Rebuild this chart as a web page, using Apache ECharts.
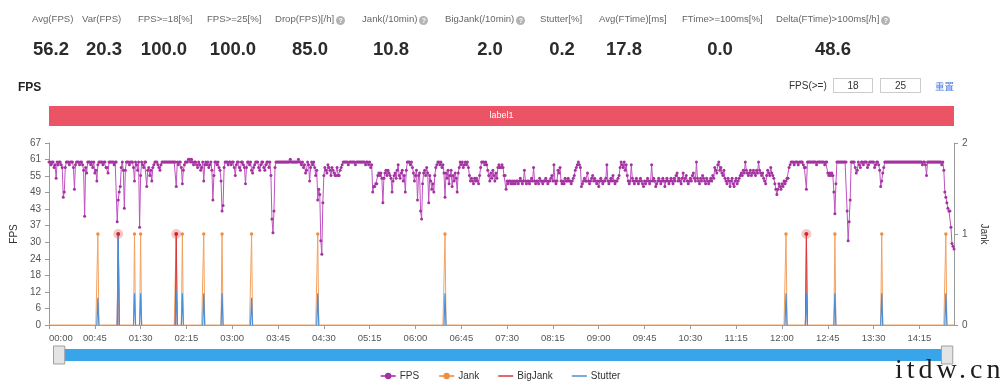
<!DOCTYPE html>
<html>
<head>
<meta charset="utf-8">
<script src="https://cdn.jsdelivr.net/npm/echarts@6/dist/echarts.min.js"></script>
<style>
html,body{margin:0;padding:0;width:1000px;height:381px;overflow:hidden;background:#fff;font-family:'Liberation Sans',Arial,sans-serif;}
#chart{position:absolute;left:0;top:0;width:1000px;height:381px;}
.ui{position:absolute;white-space:nowrap;pointer-events:none;}
.slabel{font-size:9.6px;color:#666;line-height:12px;top:13px;}
.sval{font-size:18.5px;font-weight:bold;color:#2b2b2b;line-height:20px;top:39px;transform:translateX(-50%);}
.help{display:inline-block;width:9px;height:9px;border-radius:50%;background:#b3b3b3;color:#fff;font-size:7px;font-weight:bold;line-height:9px;text-align:center;vertical-align:-1px;margin-left:2px;}
.box{box-sizing:border-box;height:15px;border:1px solid #ccc;font-size:10px;color:#333;line-height:13px;text-align:center;top:78px;}
</style>
</head>
<body>
<div id="chart"></div>
<div id="ui"></div>
<script>
// ---------- data ----------
const statLabels = ['Avg(FPS)','Var(FPS)','FPS>=18[%]','FPS>=25[%]','Drop(FPS)[/h]','Jank(/10min)','BigJank(/10min)','Stutter[%]','Avg(FTime)[ms]','FTime>=100ms[%]','Delta(FTime)>100ms[/h]'];
const statValues = ['56.2','20.3','100.0','100.0','85.0','10.8','2.0','0.2','17.8','0.0','48.6'];
const statHelp = [false,false,false,false,true,true,true,false,false,false,true];

const fps = [
60,60,59,60,60,58,59,54,60,59,
60,60,59,58,47,49,58,60,60,60,
59,60,60,60,58,50,59,60,60,60,
59,60,60,59,57,40,58,56,60,60,
60,59,60,58,60,56,57,53,59,60,
60,60,60,59,60,60,58,58,56,60,
60,60,60,60,59,60,60,38,46,49,
51,58,60,57,43,57,60,60,60,59,
60,60,60,58,53,60,59,57,60,36,
55,60,59,58,60,60,51,57,58,55,
57,53,58,59,60,60,60,59,58,57,
59,60,60,60,60,60,60,60,60,60,
60,60,60,60,60,51,60,59,60,60,
58,52,57,59,60,60,60,61,61,60,
61,60,59,60,60,59,58,60,59,57,
58,60,53,59,60,59,60,58,59,60,
57,46,55,60,60,59,60,58,57,53,
42,44,58,60,60,60,59,60,60,59,
60,60,58,55,59,60,60,58,57,60,
60,59,58,52,58,60,60,59,60,57,
56,58,59,60,60,60,58,57,59,60,
60,58,57,59,60,60,58,60,55,39,
34,42,58,60,60,60,60,60,60,60,
60,60,60,60,60,60,60,61,60,60,
60,60,60,60,60,61,60,60,59,60,
58,59,56,57,60,59,53,58,60,59,
60,58,55,57,46,50,48,31,26,45,
55,58,57,56,59,58,57,55,58,57,
56,55,55,58,55,55,57,58,59,60,
60,60,60,60,59,60,60,60,60,60,
60,59,60,60,60,60,60,60,60,60,
60,59,60,60,59,60,58,59,49,51,
51,52,52,55,56,55,56,54,45,54,
56,57,55,57,56,55,54,49,53,55,
56,54,57,59,55,54,56,57,53,55,
49,57,60,60,60,59,60,58,56,53,
55,57,46,55,56,42,39,52,56,57,
55,58,56,45,55,53,50,52,49,55,
58,59,60,60,59,60,58,59,56,47,
56,54,57,52,55,57,51,55,53,56,
54,49,56,58,60,59,60,58,59,60,
59,60,58,55,53,54,53,52,54,53,
54,53,52,55,58,60,60,60,59,60,
59,57,55,53,56,54,57,55,53,56,
54,58,59,58,58,59,58,55,55,50,
53,52,53,53,52,53,52,53,52,53,
53,52,53,54,53,52,53,57,53,52,
53,53,52,53,54,53,58,53,52,53,
53,52,54,53,53,52,53,53,54,53,
52,53,53,54,55,53,59,53,52,53,
57,56,58,53,52,53,52,54,53,53,
54,53,53,52,53,54,55,57,58,59,
60,59,58,51,52,53,54,53,53,56,
53,52,53,54,55,53,54,53,52,53,
51,53,54,53,52,53,53,54,59,53,
52,53,54,53,55,53,52,53,53,54,
55,58,60,59,58,60,57,59,55,53,
52,53,59,54,53,52,53,54,53,52,
53,54,53,52,51,53,52,53,54,53,
52,53,59,53,54,53,51,52,53,54,
53,52,53,54,53,51,53,54,53,52,
53,54,53,52,54,53,55,56,53,54,
53,52,54,56,53,54,55,53,52,53,
54,53,55,56,54,53,60,54,53,52,
54,53,55,54,53,52,54,53,52,53,
54,53,55,54,58,57,56,59,60,57,
58,56,55,57,54,53,52,54,53,51,
53,54,52,51,53,54,52,53,54,55,
56,55,57,56,60,57,56,55,56,57,
55,56,57,56,55,57,56,60,57,56,
55,56,54,53,52,55,57,56,55,58,
56,55,54,52,50,48,50,52,51,50,
52,51,53,52,53,54,54,58,59,60,
60,60,59,60,60,60,59,60,60,60,
60,59,58,58,50,60,60,60,60,60,
60,60,60,60,59,60,60,60,60,60,
60,60,59,60,60,56,55,56,55,56,
55,49,41,52,60,60,60,60,60,60,
60,60,60,60,42,31,38,46,60,60,
60,60,58,56,57,60,59,58,60,60,
59,60,60,60,58,59,60,60,60,60,
60,58,59,60,60,59,57,51,53,56,
58,60,60,60,60,60,60,60,60,60,
60,60,60,60,60,60,60,60,60,60,
60,60,60,60,60,60,60,60,60,60,
60,60,60,60,60,60,60,60,59,60,
60,59,55,60,60,60,60,60,60,60,
60,60,60,60,60,60,60,59,60,57,
49,47,45,43,42,42,36,30,29,28
];
// jank events (sample index = second), stutter peak per event, big-jank events
const jankIdx = [48,68,84,90,125,131,152,170,199,264,389,724,744,772,818,881];
const stutterPeak = [0.3,1,0.35,0.35,0.38,0.35,0.35,0.35,0.3,0.35,0.35,0.35,0.35,0.35,0.35,0.35];
const bigJankIdx = [68,125,744];
// label segments
const segNames = ['label1'];
const segStart = [0];
const segEnd = [889];
// FPS axis: 0..67 split in 11
const fpsMax = 67, fpsSplits = 11;

// ---------- layout (not data) ----------
const statLabelLeft = [32,82,138,207,275,362,445,540,599,682,776];
const statValueCenter = [51,104,164,233,310,391,490,562,624,720,833];

// ---------- header HTML ----------
const ui = document.getElementById('ui');
function add(html, cls, style){ const d=document.createElement('div'); d.className='ui '+(cls||''); d.innerHTML=html; Object.assign(d.style, style||{}); ui.appendChild(d); return d; }
statLabels.forEach((t,k)=>{
  add(t.replace(/</g,'&lt;').replace(/>/g,'&gt;') + (statHelp[k]?'<span class="help">?</span>':''), 'slabel', {left:statLabelLeft[k]+'px'});
  add(statValues[k], 'sval', {left:statValueCenter[k]+'px'});
});
add('FPS','',{left:'18px',top:'80px',fontSize:'12px',fontWeight:'bold',color:'#222',lineHeight:'14px'});
add('FPS(&gt;=)','',{left:'789px',top:'80px',fontSize:'10px',color:'#333',lineHeight:'12px'});
add('18','box',{left:'833px',width:'40px'});
add('25','box',{left:'880px',width:'41px'});
add('重置','',{left:'935px',top:'80px',fontSize:'9.5px',color:'#4a7ddc',lineHeight:'12px',fontFamily:"'Noto Sans CJK SC',sans-serif"});
add('itdw.cn','',{left:'895px',top:'355px',fontSize:'28px',letterSpacing:'4px',color:'#1c1c1c',lineHeight:'28px',fontFamily:"'Liberation Serif',serif"});

// ---------- series construction ----------
const times = fps.map((_,i)=>String(Math.floor(i/60)).padStart(2,'0')+':'+String(i%60).padStart(2,'0'));
const jank = fps.map(()=>0);
jankIdx.forEach(i=>{ jank[i]=1; });
const stutter = fps.map(()=>null);
jankIdx.forEach((i,k)=>{ stutter[i-1]=0; stutter[i]=stutterPeak[k]; stutter[i+1]=0; });
const bigJank = fps.map(()=>null);
bigJankIdx.forEach(i=>{
  bigJank[i-1]=0; bigJank[i+1]=0;
  bigJank[i]={value:1,symbol:'circle',symbolSize:4,itemStyle:{color:'#c42129',borderColor:'rgba(235,85,85,0.33)',borderWidth:6}};
});

const chart = echarts.init(document.getElementById('chart'), null, {renderer:'canvas'});
const axisGray = '#9a9a9a';
const lineIcon = 'path://M0,0 H16 V1.6 H0 Z';
chart.setOption({
  animation:false,
  textStyle:{fontFamily:"'Liberation Sans',Arial,sans-serif"},
  legend:{
    top:366, left:'center', itemWidth:15, itemHeight:8, itemGap:19,
    textStyle:{fontSize:10,color:'#333',padding:[0,0,0,-1]},
    data:['FPS','Jank',{name:'BigJank',icon:lineIcon},{name:'Stutter',icon:lineIcon}]
  },
  grid:[
    {left:49,right:46,top:143,bottom:56,outerBoundsMode:'none'},
    {left:49,right:46,top:106,height:20,outerBoundsMode:'none'}
  ],
  xAxis:[
    {type:'category',data:times,boundaryGap:false,
     axisLine:{lineStyle:{color:axisGray}},
     axisTick:{show:true,interval:44,length:4,lineStyle:{color:axisGray}},
     axisLabel:{interval:44,color:'#555',fontSize:9.5,margin:8,alignMinLabel:'left',hideOverlap:false},
     splitLine:{show:false}},
    {type:'value',gridIndex:1,min:0,max:segEnd[segEnd.length-1],show:false}
  ],
  yAxis:[
    {type:'value',min:0,max:fpsMax,interval:fpsMax/fpsSplits,
     name:'FPS',nameLocation:'middle',nameGap:26,nameRotate:90,nameTextStyle:{color:'#333',fontSize:10},
     axisLine:{show:true,lineStyle:{color:axisGray}},
     axisTick:{show:true,length:4,lineStyle:{color:axisGray}},
     axisLabel:{color:'#555',fontSize:10,margin:8,formatter:v=>String(Math.round(v))},
     splitLine:{show:false}},
    {type:'value',min:0,max:2,interval:1,position:'right',
     name:'Jank',nameLocation:'middle',nameGap:17,nameRotate:-90,nameTextStyle:{color:'#333',fontSize:10},
     axisLine:{show:true,lineStyle:{color:axisGray}},
     axisTick:{show:true,length:4,lineStyle:{color:axisGray}},
     axisLabel:{color:'#555',fontSize:10,margin:8},
     splitLine:{show:false}},
    {type:'category',gridIndex:1,data:segNames,show:false}
  ],
  dataZoom:[{
    type:'slider',xAxisIndex:0,left:57,right:53,top:349,height:12,
    showDetail:false,showDataShadow:false,brushSelect:false,moveHandleSize:0,
    backgroundColor:'#eee',fillerColor:'#38a4ea',borderColor:'transparent',
    dataBackground:{lineStyle:{opacity:0},areaStyle:{opacity:0}},
    selectedDataBackground:{lineStyle:{opacity:0},areaStyle:{opacity:0}},
    handleIcon:'path://M0,0 L10,0 L10,16 L0,16 Z',handleSize:'150%',
    handleStyle:{color:'#e4e4e4',borderColor:'#a0a0a0',borderWidth:1}
  }],
  series:[
    {name:'FPS',type:'line',data:fps,xAxisIndex:0,yAxisIndex:0,
     symbol:'circle',symbolSize:3,showAllSymbol:true,
     lineStyle:{width:1,color:'#bd52c0'},itemStyle:{color:'#a3339f'},
     emphasis:{disabled:true}},
    {name:'Jank',type:'line',data:jank,xAxisIndex:0,yAxisIndex:1,
     symbol:'circle',symbolSize:v=>v?3.5:0,showAllSymbol:true,
     lineStyle:{width:1,color:'#f2a262'},itemStyle:{color:'#ec9046'},
     emphasis:{disabled:true}},
    {name:'BigJank',type:'line',data:bigJank,xAxisIndex:0,yAxisIndex:1,
     symbol:'none',showAllSymbol:true,
     lineStyle:{width:1,color:'#d9363e'},itemStyle:{color:'#d9363e'},
     emphasis:{disabled:true}},
    {name:'Stutter',type:'line',data:stutter,xAxisIndex:0,yAxisIndex:1,
     symbol:'none',
     lineStyle:{width:1.2,color:'#4b8fd8'},itemStyle:{color:'#4b8fd8'},
     emphasis:{disabled:true}},
    {name:'labels',type:'custom',xAxisIndex:1,yAxisIndex:2,silent:true,
     data:segNames.map((n,k)=>[segStart[k],segEnd[k],k]),
     renderItem:(params,api)=>{
       const a=api.coord([api.value(0),api.value(2)]);
       const b=api.coord([api.value(1),api.value(2)]);
       const h=api.size([0,1])[1];
       return {type:'group',children:[
         {type:'rect',shape:{x:a[0],y:a[1]-h/2,width:b[0]-a[0],height:h},style:{fill:'#ea5465'}},
         {type:'text',style:{x:(a[0]+b[0])/2,y:a[1],text:segNames[params.dataIndex],fill:'#fff',fontSize:9,align:'center',verticalAlign:'middle',fontFamily:"'Liberation Sans',Arial,sans-serif"}}
       ]};
     }}
  ]
});
</script>
</body>
</html>
